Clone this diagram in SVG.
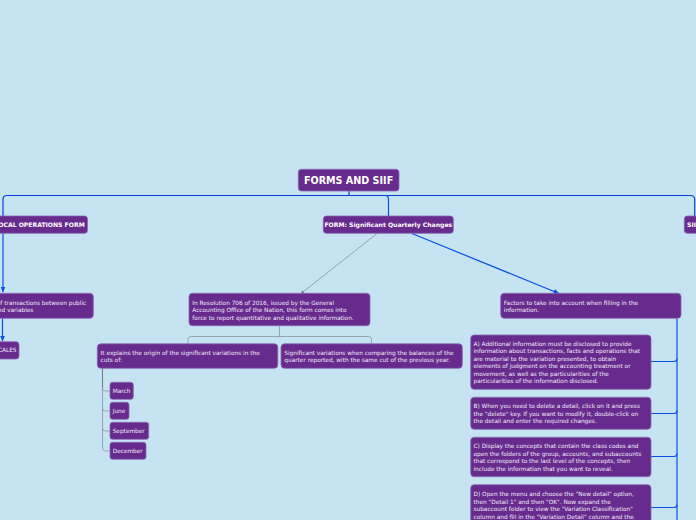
<svg xmlns="http://www.w3.org/2000/svg" width="696" height="520" viewBox="0 0 696 520">
<defs>
<style>
.box{fill:#662b8c;stroke:#8b67b5;stroke-width:0.8}
.t{font-family:"DejaVu Sans",Verdana,sans-serif;font-size:5.8px;fill:#f2eaf8}
.tb{font-family:"DejaVu Sans",Verdana,sans-serif;font-size:6.1px;font-weight:bold;fill:#ffffff}
.root{font-family:"DejaVu Sans",Verdana,sans-serif;font-size:9.6px;font-weight:bold;fill:#ffffff}
.blue{fill:none;stroke:#0b4fe8;stroke-width:1.2}
.dblue{fill:none;stroke:#0a3fd6;stroke-width:1.2}
.gray{fill:none;stroke:#8d9ea8;stroke-width:0.9}
.dgray{fill:none;stroke:#666f74;stroke-width:0.9}
</style>
<marker id="ab" viewBox="0 0 6 6" refX="5.5" refY="3" markerWidth="5" markerHeight="5" orient="auto"><path d="M0,0.5 L6,3 L0,5.5 Z" fill="#0b4fe8"/></marker>
<marker id="ag" viewBox="0 0 6 6" refX="5.5" refY="3" markerWidth="4" markerHeight="4" orient="auto"><path d="M0,0.5 L6,3 L0,5.5 Z" fill="#6f7f88"/></marker>
</defs>
<rect width="696" height="520" fill="#c5e3f1"/>
<g id="connectors">
<path class="dblue" d="M349,191 V195.5"/>
<path class="dblue" d="M3,216 V199 Q3,195.5 7,195.5 H690.5 Q694.7,195.5 694.7,199.5 V216"/>
<path class="blue" d="M385,195.5 Q388.5,195.5 388.5,199 V216"/>
<path class="blue" d="M3,233 V292" marker-end="url(#ab)"/>
<path class="blue" d="M2.5,318.5 V341" marker-end="url(#ab)"/>
<path class="gray" d="M377,233.5 L301,293.5" marker-end="url(#ag)"/>
<path class="blue" d="M412,233.5 L559,293.5" marker-end="url(#ab)"/>
<path class="gray" d="M279.5,326 V336.5"/>
<path class="gray" d="M188,344 V339.5 Q188,336.5 191,336.5 H368.5 Q371.5,336.5 371.5,339.5 V344"/>
<path class="dgray" d="M102.5,368.5 V388"/>
<path class="gray" d="M102.5,388 V448 Q102.5,451 105.5,451 H110"/>
<path class="gray" d="M102.5,388 Q102.5,391 105.5,391 H110"/>
<path class="gray" d="M102.5,408 Q102.5,411 105.5,411 H110"/>
<path class="gray" d="M102.5,428 Q102.5,431 105.5,431 H110"/>
<path class="blue" d="M677,318.5 V520"/>
<path class="blue" d="M651,361.5 H674 Q677,361.5 677,358.5"/>
<path class="blue" d="M651,413.5 H674 Q677,413.5 677,410.5"/>
<path class="blue" d="M651,456.5 H674 Q677,456.5 677,453.5"/>
<path class="blue" d="M651,507.5 H674 Q677,507.5 677,504.5"/>
</g>
<g id="root">
<rect class="box" x="298.3" y="169.3" width="100.7" height="21.7" rx="3"/>
<text class="root" x="348.6" y="183.6" text-anchor="middle">FORMS AND SIIF</text>
</g>
<g id="local-operations-form">
<rect class="box" x="-10" y="216" width="97.5" height="17.3" rx="3"/>
<text class="tb" x="84.7" y="226.9" text-anchor="end">LOCAL OPERATIONS FORM</text>
</g>
<g id="transactions">
<rect class="box" x="-10" y="293.3" width="103.3" height="25" rx="3.5"/>
<text class="t" x="-3.2" y="305">of transactions between public</text>
<text class="t" x="-5.8" y="311.8">and variables</text>
</g>
<g id="cales">
<rect class="box" x="-10" y="341.7" width="29" height="17.3" rx="3"/>
<text class="t" x="16.5" y="352.4" text-anchor="end">CALES</text>
</g>
<g id="form-quarterly">
<rect class="box" x="323.3" y="216" width="130" height="17.3" rx="3"/>
<text class="tb" x="388.3" y="226.9" text-anchor="middle">FORM: Significant Quarterly Changes</text>
</g>
<g id="siif">
<rect class="box" x="684.3" y="216" width="30" height="17.3" rx="3"/>
<text class="tb" x="687" y="226.9">SIIF</text>
</g>
<g id="resolution">
<rect class="box" x="189" y="293.3" width="181" height="32.4" rx="3.5"/>
<text class="t" x="192.3" y="304.7">In Resolution 706 of 2016, issued by the General</text>
<text class="t" x="192.3" y="312.3">Accounting Office of the Nation, this form comes into</text>
<text class="t" x="192.3" y="320">force to report quantitative and qualitative information.</text>
</g>
<g id="explains">
<rect class="box" x="97.3" y="343.8" width="180.5" height="24.5" rx="3.5"/>
<text class="t" x="100.6" y="355.2">It explains the origin of the significant variations in the</text>
<text class="t" x="100.6" y="362">cuts of:</text>
</g>
<g id="variations">
<rect class="box" x="281" y="343.8" width="181.3" height="24.5" rx="3.5"/>
<text class="t" x="284.3" y="355.3">Significant variations when comparing the balances of the</text>
<text class="t" x="284.3" y="362">quarter reported, with the same cut of the previous year.</text>
</g>
<g id="march">
<rect class="box" x="110" y="382.3" width="23.3" height="17" rx="2.5"/>
<text class="t" x="112.7" y="392.7">March</text>
</g>
<g id="june">
<rect class="box" x="110" y="402.3" width="19" height="17" rx="2.5"/>
<text class="t" x="112.7" y="412.7">June</text>
</g>
<g id="september">
<rect class="box" x="110" y="422.3" width="38.7" height="17" rx="2.5"/>
<text class="t" x="112.7" y="432.7">September</text>
</g>
<g id="december">
<rect class="box" x="110" y="442.3" width="36" height="17" rx="2.5"/>
<text class="t" x="112.7" y="452.7">December</text>
</g>
<g id="factors">
<rect class="box" x="500.7" y="293.3" width="180.3" height="25" rx="3.5"/>
<text class="t" x="503.8" y="305.3">Factors to take into account when filling in the</text>
<text class="t" x="503.8" y="312">information.</text>
</g>
<g id="factor-a">
<rect class="box" x="470.7" y="335" width="180.3" height="54.3" rx="3.5"/>
<text class="t" x="473.5" y="345.7">A) Additional information must be disclosed to provide</text>
<text class="t" x="473.5" y="353.3">information about transactions, facts and operations that</text>
<text class="t" x="473.5" y="361">are material to the variation presented, to obtain</text>
<text class="t" x="473.5" y="368.3">elements of judgment on the accounting treatment or</text>
<text class="t" x="473.5" y="376">movement, as well as the particularities of the</text>
<text class="t" x="473.5" y="383.3">particularities of the information disclosed.</text>
</g>
<g id="factor-b">
<rect class="box" x="470.7" y="397.3" width="180.3" height="32" rx="3.5"/>
<text class="t" x="473.5" y="408">B) When you need to delete a detail, click on it and press</text>
<text class="t" x="473.5" y="415.7">the "delete" key. If you want to modify it, double-click on</text>
<text class="t" x="473.5" y="423">the detail and enter the required changes.</text>
</g>
<g id="factor-c">
<rect class="box" x="470.7" y="437.3" width="180.3" height="39.4" rx="3.5"/>
<text class="t" x="473.5" y="448">C) Display the concepts that contain the class codes and</text>
<text class="t" x="473.5" y="455.7">open the folders of the group, accounts, and subaccounts</text>
<text class="t" x="473.5" y="463.3">that correspond to the last level of the concepts, then</text>
<text class="t" x="473.5" y="471.2">include the information that you want to reveal.</text>
</g>
<g id="factor-d">
<rect class="box" x="470.7" y="484.7" width="180.3" height="50" rx="3.5"/>
<text class="t" x="473.5" y="496">D) Open the menu and choose the "New detail" option,</text>
<text class="t" x="473.5" y="503.7">then "Detail 1" and then "OK". Now expand the</text>
<text class="t" x="473.5" y="511.3">subaccount folder to view the "Variation Classification"</text>
<text class="t" x="473.5" y="519">column and fill in the "Variation Detail" column and the</text>
</g>
</svg>
